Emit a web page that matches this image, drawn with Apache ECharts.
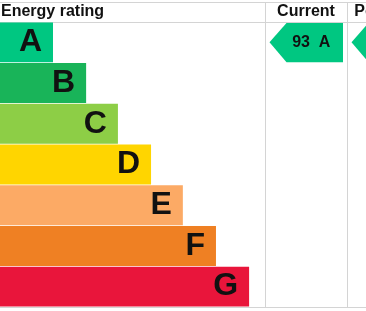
<!DOCTYPE html>
<html>
<head>
<meta charset="utf-8">
<script src="https://cdn.jsdelivr.net/npm/echarts@6/dist/echarts.min.js"></script>
<style>
html,body{margin:0;padding:0;background:#fff;}
#chart{width:366px;height:311px;}
</style>
</head>
<body>
<div id="chart"></div>
<script>
// Data
var bands = ['A', 'B', 'C', 'D', 'E', 'F', 'G'];
var barLengths = [20, 32.5, 44.5, 57, 69, 81.5, 94];
var bandColors = ['#00c781', '#19b459', '#8dce46', '#ffd500', '#fcaa65', '#ef8023', '#e9153b'];
var columns = ['Current', 'Potential'];
var ratingBands = [0, 0];      // band index per column
var ratingScores = [93, 93];
var title = 'Energy rating';

var FONT = 'Liberation Sans, Arial, sans-serif';
var LINE = '#d4d4d4';

var chart = echarts.init(document.getElementById('chart'), null, {renderer: 'canvas'});

var arrowData = columns.map(function (c, i) {
  return [i, ratingBands[i], ratingScores[i]];
});

chart.setOption({
  animation: false,
  title: {
    text: title,
    left: 1, top: 4, padding: 0,
    textStyle: {fontFamily: FONT, fontSize: 16, fontWeight: 'bold', color: '#111'}
  },
  grid: [
    {left: 0, top: 22, width: 265, height: 285, outerBoundsMode: 'none', containLabel: false},
    {left: 265, top: 22, width: 164, height: 285, outerBoundsMode: 'none', containLabel: false}
  ],
  xAxis: [
    {gridIndex: 0, type: 'value', min: 0, max: 100, show: false},
    {gridIndex: 1, type: 'category', data: columns, position: 'top',
     axisLine: {show: false}, axisTick: {show: false}, splitLine: {show: false},
     axisLabel: {margin: 2, fontFamily: FONT, fontSize: 16, fontWeight: 'bold', color: '#111', interval: 0}}
  ],
  yAxis: [
    {gridIndex: 0, type: 'category', data: bands, inverse: true, show: false},
    {gridIndex: 1, type: 'category', data: bands, inverse: true, show: false}
  ],
  series: [
    {
      type: 'bar', xAxisIndex: 0, yAxisIndex: 0,
      barCategoryGap: '2%',
      data: barLengths.map(function (v, i) {
        return {value: v, itemStyle: {color: bandColors[i]}};
      }),
      label: {
        show: true, position: 'insideRight', distance: 11,
        formatter: function (p) { return bands[p.dataIndex]; },
        fontFamily: FONT, fontSize: 32, fontWeight: 'bold', color: '#111'
      }
    },
    {
      type: 'custom', xAxisIndex: 1, yAxisIndex: 1,
      data: arrowData,
      encode: {x: 0, y: 1},
      renderItem: function (params, api) {
        var col = api.value(0), band = api.value(1), score = api.value(2);
        var c = api.coord([col, band]);
        var s = api.size([1, 1]);
        var x0 = c[0] - s[0] / 2 + 4.5;
        var x1 = c[0] + s[0] / 2 - 4;
        var top = c[1] - s[1] / 2 + 1;
        var bot = c[1] + s[1] / 2 - 0.5;
        var notch = 17;
        return {
          type: 'group',
          children: [
            {
              type: 'polygon',
              shape: {points: [[x0, c[1]], [x0 + notch, top], [x1, top], [x1, bot], [x0 + notch, bot]]},
              style: {fill: bandColors[band]}
            },
            {
              type: 'text',
              style: {
                text: score + '  ' + bands[band],
                x: (x0 + x1) / 2 + 5, y: c[1] + 0.5,
                align: 'center', verticalAlign: 'middle',
                font: 'bold 16px ' + FONT, fill: '#111'
              }
            }
          ]
        };
      }
    }
  ],
  graphic: [
    {type: 'line', shape: {x1: 0, y1: 2.5, x2: 366, y2: 2.5}, style: {stroke: LINE, lineWidth: 1}},
    {type: 'line', shape: {x1: 0, y1: 22.5, x2: 366, y2: 22.5}, style: {stroke: LINE, lineWidth: 1}},
    {type: 'line', shape: {x1: 0, y1: 307.5, x2: 366, y2: 307.5}, style: {stroke: LINE, lineWidth: 1}},
    {type: 'line', shape: {x1: 265.5, y1: 2, x2: 265.5, y2: 308}, style: {stroke: LINE, lineWidth: 1}},
    {type: 'line', shape: {x1: 347.5, y1: 2, x2: 347.5, y2: 308}, style: {stroke: LINE, lineWidth: 1}}
  ]
});
</script>
</body>
</html>
